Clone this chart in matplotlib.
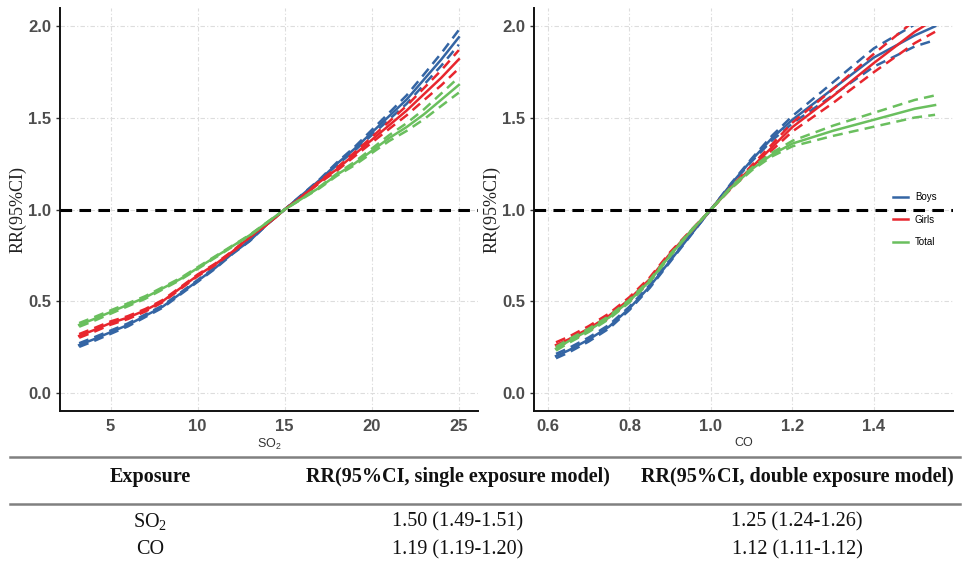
import numpy as np
import matplotlib
matplotlib.use("Agg")
import matplotlib.pyplot as plt
from matplotlib.lines import Line2D
from matplotlib.patches import Rectangle

# SO2 panel data
so2_x = [3.2, 4, 5, 6, 7, 8, 9, 10, 11, 12, 13, 14, 15, 16, 17, 18, 19, 20, 21, 22, 23, 24, 25]
so2_boys = [0.26, 0.29, 0.33, 0.37, 0.42, 0.47, 0.54, 0.61, 0.68, 0.76, 0.83, 0.92, 1.00,
            1.08, 1.16, 1.25, 1.33, 1.42, 1.51, 1.60, 1.71, 1.82, 1.94]
so2_girls = [0.31, 0.34, 0.38, 0.41, 0.45, 0.50, 0.57, 0.64, 0.70, 0.77, 0.85, 0.92, 1.00,
             1.07, 1.15, 1.22, 1.30, 1.38, 1.46, 1.54, 1.63, 1.72, 1.82]
so2_total = [0.37, 0.40, 0.44, 0.48, 0.52, 0.57, 0.62, 0.68, 0.74, 0.80, 0.86, 0.93, 1.00,
             1.06, 1.12, 1.19, 1.25, 1.32, 1.39, 1.45, 1.52, 1.60, 1.68]
so2_boys_ci = [0.010, 0.010, 0.009, 0.008, 0.007, 0.006, 0.005, 0.005, 0.004, 0.003, 0.002, 0.001, 0,
               0.002, 0.004, 0.007, 0.010, 0.014, 0.018, 0.023, 0.028, 0.034, 0.040]
so2_girls_ci = [0.010, 0.010, 0.009, 0.008, 0.007, 0.006, 0.005, 0.005, 0.004, 0.003, 0.002, 0.001, 0,
                0.002, 0.005, 0.008, 0.011, 0.015, 0.020, 0.026, 0.033, 0.041, 0.050]
so2_total_ci = [0.010, 0.010, 0.009, 0.008, 0.007, 0.006, 0.005, 0.005, 0.004, 0.003, 0.002, 0.001, 0,
                0.002, 0.004, 0.006, 0.009, 0.012, 0.016, 0.021, 0.027, 0.034, 0.042]

# CO panel data
co_x = [0.62, 0.65, 0.70, 0.75, 0.80, 0.85, 0.90, 0.95, 1.00, 1.05, 1.10, 1.15, 1.20, 1.30, 1.40, 1.50, 1.55]
co_boys = [0.20, 0.23, 0.29, 0.36, 0.46, 0.58, 0.72, 0.86, 1.00, 1.14, 1.27, 1.39, 1.49, 1.66, 1.83, 1.95, 2.00]
co_girls = [0.26, 0.29, 0.35, 0.42, 0.51, 0.62, 0.76, 0.88, 1.00, 1.12, 1.23, 1.34, 1.45, 1.62, 1.80, 1.97, 2.04]
co_total = [0.24, 0.28, 0.34, 0.41, 0.50, 0.61, 0.75, 0.88, 1.00, 1.12, 1.22, 1.30, 1.36, 1.43, 1.49, 1.55, 1.57]
co_boys_ci = [0.012, 0.012, 0.011, 0.010, 0.009, 0.008, 0.006, 0.003, 0, 0.004, 0.008, 0.013, 0.020,
              0.035, 0.050, 0.060, 0.075]
co_girls_ci = [0.015, 0.014, 0.013, 0.012, 0.011, 0.009, 0.007, 0.004, 0, 0.005, 0.010, 0.016, 0.024,
               0.038, 0.050, 0.062, 0.070]
co_total_ci = [0.010, 0.010, 0.009, 0.008, 0.007, 0.006, 0.005, 0.003, 0, 0.004, 0.007, 0.010, 0.015,
               0.028, 0.038, 0.048, 0.053]

groups = ["Boys", "Girls", "Total"]
colors = ["#3465A4", "#E8262E", "#6ABF5E"]

# table
table_header = ["Exposure", "RR(95%CI, single exposure model)", "RR(95%CI, double exposure model)"]
table_rows = [["SO$_\\mathregular{2}$", "1.50 (1.49-1.51)", "1.25 (1.24-1.26)"],
              ["CO", "1.19 (1.19-1.20)", "1.12 (1.11-1.12)"]]

W, H = 967, 568
fig = plt.figure(figsize=(W / 100, H / 100), dpi=100)


def panel(rect, x, series, cis, xlabel, xticks, xlim, legend=False):
    ax = fig.add_axes(rect)
    ax.set_xlim(*xlim)
    ax.set_ylim(-0.1, 2.1)
    # ggplot drops anything above 2.0, so clip the curves there
    clip = Rectangle((xlim[0], -0.1), xlim[1] - xlim[0], 2.1, transform=ax.transData)
    for y, ci, c, g in zip(series, cis, colors, groups):
        y = np.array(y)
        ci = np.array(ci)
        ln, = ax.plot(x, y, color=c, lw=1.8, label=g, zorder=3)
        ln.set_clip_path(clip)
        for sgn in (1, -1):
            d, = ax.plot(x, y + sgn * ci, color=c, lw=1.8, dashes=(4, 2.5), zorder=3)
            d.set_clip_path(clip)
    ax.axhline(1.0, color="black", lw=2.2, dashes=(3.8, 2.4), zorder=4)
    ax.set_xticks(xticks)
    ax.set_yticks([0.0, 0.5, 1.0, 1.5, 2.0])
    ax.set_yticklabels(["0.0", "0.5", "1.0", "1.5", "2.0"])
    ax.grid(True, color="#DDDDDD", lw=0.8, linestyle=(0, (4, 2, 1, 2)))
    ax.set_axisbelow(True)
    for s in ["top", "right"]:
        ax.spines[s].set_visible(False)
    for s in ["left", "bottom"]:
        ax.spines[s].set_linewidth(1.4)
        ax.spines[s].set_color("#111111")
    ax.tick_params(axis="both", labelsize=12, labelcolor="#4D4D4D", length=3, width=1, color="#333333")
    ax.tick_params(axis="x", length=0, pad=6)
    for lab in ax.get_xticklabels() + ax.get_yticklabels():
        lab.set_fontweight("bold")
        lab.set_family("Liberation Sans")
    ax.set_xlabel(xlabel, fontsize=9, color="#333333", family="Liberation Sans", labelpad=2)
    ax.set_ylabel("RR(95%CI)", fontsize=13, family="Liberation Serif", color="#222222", labelpad=1)
    if legend:
        ax.legend(loc="center left", bbox_to_anchor=(0.835, 0.475), frameon=False,
                  handlelength=1.6, labelspacing=1.3, handletextpad=0.7,
                  prop={"family": "Liberation Sans", "size": 7})
    return ax


panel([60 / W, 1 - 411 / H, 418 / W, 403 / H], so2_x, [so2_boys, so2_girls, so2_total],
      [so2_boys_ci, so2_girls_ci, so2_total_ci], "SO$_\\mathregular{2}$",
      [5, 10, 15, 20, 25], (2.1, 26.1))
panel([534 / W, 1 - 411 / H, 419 / W, 403 / H], co_x, [co_boys, co_girls, co_total],
      [co_boys_ci, co_girls_ci, co_total_ci], "CO",
      [0.6, 0.8, 1.0, 1.2, 1.4], (0.566, 1.594), legend=True)

# table below the plots
for yy in (457, 504):
    fig.add_artist(Line2D([10 / W, 960 / W], [1 - yy / H, 1 - yy / H], color="#808080", lw=1.8))
col_x = [150, 458, 797]
for cx, txt in zip(col_x, table_header):
    fig.text(cx / W, 1 - 477 / H, txt, ha="center", va="center", fontsize=14.5,
             fontweight="bold", family="Liberation Serif", color="#111111")
for ry, row in zip([522, 550], table_rows):
    for cx, txt in zip(col_x, row):
        fig.text(cx / W, 1 - ry / H, txt, ha="center", va="center", fontsize=14.5,
                 family="Liberation Serif", color="#111111")

fig.savefig("out.png", dpi=100)
